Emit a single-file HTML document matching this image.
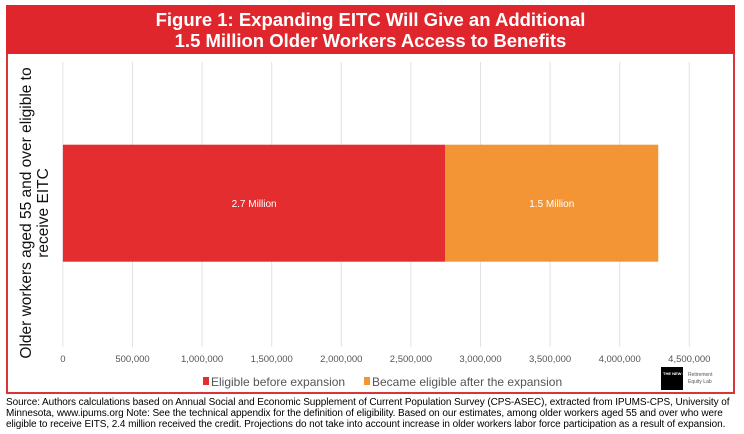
<!DOCTYPE html>
<html><head><meta charset="utf-8"><style>
body{margin:0;width:744px;height:434px;background:#fff;font-family:"Liberation Sans",sans-serif;overflow:hidden;position:relative}
#frame{position:absolute;left:6px;top:5px;width:725px;height:385px;border:2px solid #d9343a;box-sizing:content-box}
#header{position:absolute;left:6px;top:5px;width:729px;height:49px;background:#e0262d;color:#fff;text-align:center;font-weight:bold;font-size:18.5px;line-height:21px;padding-top:4px;box-sizing:border-box}
#footer{position:absolute;left:6px;top:397px;width:738px;font-size:10px;line-height:11px;color:#000;letter-spacing:-0.08px;white-space:nowrap}
</style></head><body>
<div id="frame"></div>
<div id="header">Figure 1: Expanding EITC Will Give an Additional<br>1.5 Million Older Workers Access to Benefits</div>
<svg id="chart" width="744" height="434" style="position:absolute;left:0;top:0"></svg>
<div id="footer">Source: Authors calculations based on Annual Social and Economic Supplement of Current Population Survey (CPS-ASEC), extracted from IPUMS-CPS, University of<br>Minnesota, www.ipums.org Note: See the technical appendix for the definition of eligibility. Based on our estimates, among older workers aged 55 and over who were<br>eligible to receive EITS, 2.4 million received the credit. Projections do not take into account increase in older workers labor force participation as a result of expansion.</div>
<script>
const ticks=[0,500000,1000000,1500000,2000000,2500000,3000000,3500000,4000000,4500000];
const tickLabels=["0","500,000","1,000,000","1,500,000","2,000,000","2,500,000","3,000,000","3,500,000","4,000,000","4,500,000"];
const seriesNames=["Eligible before expansion","Became eligible after the expansion"];
const seriesValues=[2747000,1530000];
const valueLabels=["2.7 Million","1.5 Million"];
const colors=["#e32d2f","#f39534"];
const svg=document.getElementById('chart');
const NS='http://www.w3.org/2000/svg';
const x=v=>62.9+v*(69.6/500000);
function mk(t,a){const e=document.createElementNS(NS,t);for(const k in a)e.setAttribute(k,a[k]);svg.appendChild(e);return e;}
ticks.forEach((t,i)=>{
 const g=mk('line',{x1:x(t),x2:x(t),y1:62,y2:347,stroke:'#e2e2e2','stroke-width':1});
 
 
 const l=mk('text',{x:x(t),y:362,'font-size':9.5,'text-anchor':'middle',fill:'#555'});
 l.textContent=tickLabels[i];
 
 
});
let acc=0;
seriesValues.forEach((v,i)=>{
 const r=mk('rect',{x:x(acc),y:144.7,width:x(acc+v)-x(acc),height:117,fill:colors[i]});
 
 
 const t=mk('text',{x:(x(acc)+x(acc+v))/2,y:207,'font-size':10,'text-anchor':'middle',fill:'#fff'});
 t.textContent=valueLabels[i];
 
 
 acc+=v;
});
const yt=mk('text',{transform:'translate(31,213) rotate(-90)','font-size':15.5,'text-anchor':'middle',fill:'#111'});


yt.innerHTML='<tspan x="0" dy="0">Older workers aged 55 and over eligible to</tspan><tspan x="0" dy="17">receive EITC</tspan>';
const legX=[203,364];
seriesNames.forEach((n,i)=>{
 const s=mk('rect',{x:legX[i],y:377,width:6,height:8,fill:colors[i]});
 
 
 const t=mk('text',{x:legX[i]+8,y:386,'font-size':12,fill:'#555'});
 t.textContent=n;
 
 
});
const logo=mk('rect',{x:661,y:367,width:22,height:23,fill:'#000'});


const lt=mk('text',{x:663,y:375,'font-size':4,fill:'#fff','font-weight':'bold'});
lt.textContent='THE NEW SCHOOL';


const lab=mk('text',{x:688,y:376,'font-size':5,fill:'#555'});
lab.innerHTML='<tspan x="688">Retirement</tspan><tspan x="688" dy="7">Equity Lab</tspan>';


</script>
</body></html>
